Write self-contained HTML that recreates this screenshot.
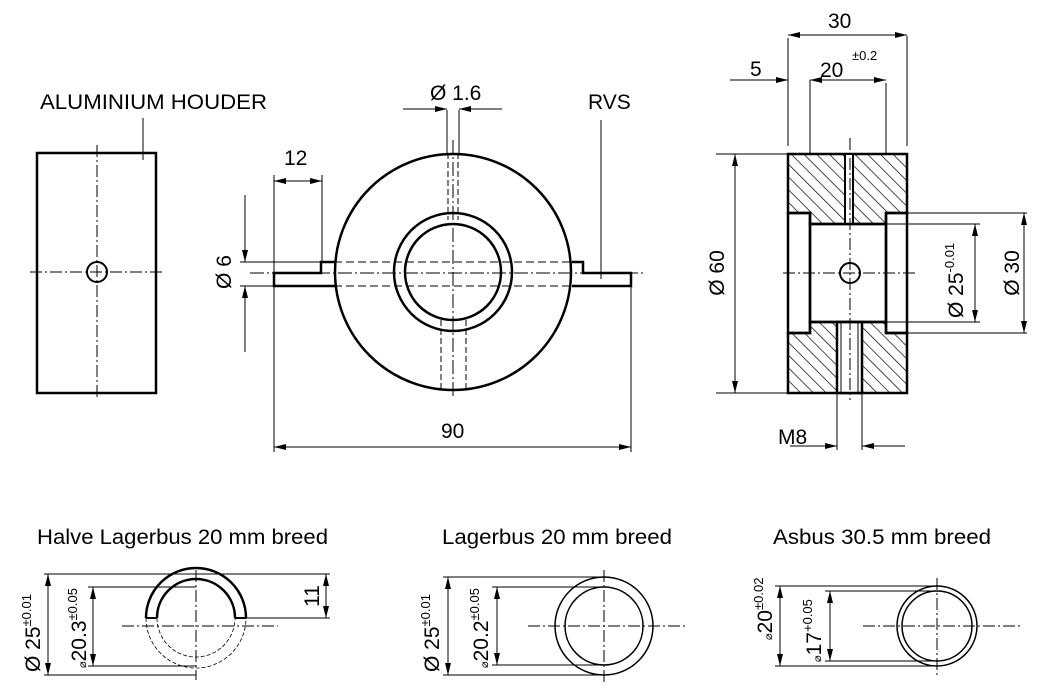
<!DOCTYPE html>
<html><head><meta charset="utf-8"><style>
html,body{margin:0;padding:0;background:#fff;}
svg{display:block;}
text{font-family:"Liberation Sans",Arial,sans-serif;fill:#000;}
</style></head><body>
<svg width="1046" height="690" viewBox="0 0 1046 690" xmlns="http://www.w3.org/2000/svg">
<defs>
<pattern id="h" width="9" height="9" patternUnits="userSpaceOnUse" patternTransform="rotate(-45)">
<line x1="0" y1="0" x2="0" y2="9" stroke="#000" stroke-width="1.4"/>
</pattern>
<marker id="a" viewBox="0 0 12 6" refX="12" refY="3" markerWidth="12" markerHeight="6" orient="auto-start-reverse" markerUnits="userSpaceOnUse">
<path d="M0,0 L12,3 L0,6 Z" fill="#000"/>
</marker>
</defs>
<g fill="none" stroke="#000" stroke-width="1">
<rect x="37" y="153" width="119" height="240" stroke-width="2.5"/>
<line x1="30" y1="272" x2="165" y2="272" stroke-dasharray="12,3,2,3"/>
<line x1="97" y1="145" x2="97" y2="400" stroke-dasharray="12,3,2,3"/>
<circle cx="97" cy="272" r="10" stroke-width="2"/>
<line x1="143" y1="118" x2="143" y2="160"/>

<circle cx="453" cy="272" r="118" stroke-width="2.5"/>
<circle cx="453" cy="272" r="59" stroke-width="2.5"/>
<circle cx="453" cy="272" r="48" stroke-width="2.5"/>
<path d="M336,286 L274,286 L274,273 L321,273 L321,262 L336,262" stroke-width="2.5"/>
<path d="M572,262 L583,262 L583,273 L631,273 L631,286 L572,286" stroke-width="2.5"/>
<line x1="274" y1="262" x2="572" y2="262" stroke-dasharray="8,4"/>
<line x1="274" y1="286" x2="572" y2="286" stroke-dasharray="8,4"/>
<line x1="250" y1="273" x2="645" y2="273" stroke-dasharray="14,3,2,3"/>
<line x1="453" y1="140" x2="453" y2="398" stroke-dasharray="14,3,2,3"/>
<line x1="447" y1="110" x2="447" y2="153"/><line x1="459" y1="110" x2="459" y2="153"/>
<line x1="448" y1="153" x2="448" y2="220" stroke-dasharray="6,3"/><line x1="458" y1="153" x2="458" y2="220" stroke-dasharray="6,3"/>
<line x1="441" y1="320" x2="441" y2="390" stroke-dasharray="6,3"/><line x1="466" y1="320" x2="466" y2="390" stroke-dasharray="6,3"/>
<line x1="403" y1="109" x2="447" y2="109" marker-end="url(#a)"/>
<line x1="502" y1="109" x2="459" y2="109" marker-end="url(#a)"/>
<line x1="274" y1="175" x2="274" y2="286"/><line x1="322" y1="175" x2="322" y2="262"/>
<line x1="274" y1="181" x2="322" y2="181" marker-start="url(#a)" marker-end="url(#a)"/>
<line x1="240" y1="262" x2="321" y2="262"/><line x1="240" y1="286" x2="274" y2="286"/>
<line x1="245" y1="195" x2="245" y2="262" marker-end="url(#a)"/>
<line x1="245" y1="352" x2="245" y2="286" marker-end="url(#a)"/>
<line x1="274" y1="286" x2="274" y2="452"/><line x1="631" y1="286" x2="631" y2="452"/>
<line x1="274" y1="447" x2="631" y2="447" marker-start="url(#a)" marker-end="url(#a)"/>
<line x1="601" y1="120" x2="601" y2="279"/>

<path d="M788,154 H907 V213 H886 V224 H810 V213 H788 Z" fill="url(#h)" stroke-width="2.5"/>
<path d="M788,393 H907 V333 H886 V322 H810 V333 H788 Z" fill="url(#h)" stroke-width="2.5"/>
<rect x="845" y="154" width="8" height="70" fill="#fff" stroke-width="2"/>
<rect x="837" y="322" width="25" height="71" fill="#fff" stroke-width="2.5"/>
<line x1="841" y1="322" x2="841" y2="393"/><line x1="858" y1="322" x2="858" y2="393"/>
<rect x="788" y="213" width="22" height="120" stroke-width="2.5"/>
<rect x="886" y="213" width="21" height="120" stroke-width="2.5"/>
<rect x="810" y="224" width="76" height="98" stroke-width="2.5"/>
<circle cx="850" cy="273" r="10" stroke-width="2"/>
<line x1="783" y1="273" x2="915" y2="273" stroke-dasharray="12,3,2,3"/>
<line x1="850" y1="138" x2="850" y2="400" stroke-dasharray="12,3,2,3"/>
<line x1="788" y1="38" x2="788" y2="146"/><line x1="907" y1="36" x2="907" y2="146"/>
<line x1="788" y1="35" x2="907" y2="35" marker-start="url(#a)" marker-end="url(#a)"/>
<line x1="730" y1="80" x2="788" y2="80" marker-end="url(#a)"/>
<line x1="810" y1="80" x2="886" y2="80" marker-start="url(#a)" marker-end="url(#a)"/>
<line x1="810" y1="80" x2="810" y2="154"/><line x1="886" y1="83" x2="886" y2="154"/>
<line x1="716" y1="154" x2="788" y2="154"/><line x1="716" y1="393" x2="788" y2="393"/>
<line x1="735" y1="154" x2="735" y2="393" marker-start="url(#a)" marker-end="url(#a)"/>
<line x1="886" y1="224" x2="980" y2="224"/><line x1="886" y1="322" x2="980" y2="322"/>
<line x1="975" y1="224" x2="975" y2="322" marker-start="url(#a)" marker-end="url(#a)"/>
<line x1="907" y1="213" x2="1027" y2="213"/><line x1="907" y1="333" x2="1027" y2="333"/>
<line x1="1024" y1="213" x2="1024" y2="333" marker-start="url(#a)" marker-end="url(#a)"/>
<line x1="837" y1="393" x2="837" y2="450"/><line x1="862" y1="393" x2="862" y2="450"/>
<line x1="790" y1="446" x2="837" y2="446" marker-end="url(#a)"/>
<line x1="905" y1="446" x2="862" y2="446" marker-end="url(#a)"/>

<path d="M146,618 A50,50 0 0 1 246,618" stroke-width="2.5"/>
<path d="M157,618 A39,39 0 0 1 235,618" stroke-width="2.5"/>
<path d="M146,618 A50,50 0 0 0 246,618" stroke-dasharray="4,2" stroke-width="0.8"/>
<path d="M157,618 A39,39 0 0 0 235,618" stroke-dasharray="4,2" stroke-width="0.8"/>
<line x1="146" y1="618" x2="157" y2="618" stroke-width="2"/><line x1="235" y1="618" x2="246" y2="618" stroke-width="2"/>
<line x1="122" y1="626" x2="278" y2="626" stroke-dasharray="12,3,2,3"/>
<line x1="196" y1="570" x2="196" y2="680" stroke-dasharray="12,3,2,3"/>
<line x1="44" y1="574" x2="330" y2="574"/><line x1="44" y1="675" x2="196" y2="675"/>
<line x1="48" y1="574" x2="48" y2="675" marker-start="url(#a)" marker-end="url(#a)"/>
<line x1="88" y1="587" x2="196" y2="587"/><line x1="88" y1="666" x2="196" y2="666"/>
<line x1="93" y1="587" x2="93" y2="666" marker-start="url(#a)" marker-end="url(#a)"/>
<line x1="246" y1="618" x2="330" y2="618"/>
<line x1="326" y1="574" x2="326" y2="618" marker-start="url(#a)" marker-end="url(#a)"/>

<circle cx="604" cy="626" r="49" stroke-width="1.5"/>
<circle cx="604" cy="626" r="39" stroke-width="1.5"/>
<line x1="528" y1="626" x2="685" y2="626" stroke-dasharray="12,3,2,3"/>
<line x1="604" y1="570" x2="604" y2="682" stroke-dasharray="12,3,2,3"/>
<line x1="443" y1="577" x2="604" y2="577"/><line x1="443" y1="675" x2="604" y2="675"/>
<line x1="448" y1="577" x2="448" y2="675" marker-start="url(#a)" marker-end="url(#a)"/>
<line x1="492" y1="587" x2="604" y2="587"/><line x1="492" y1="665" x2="604" y2="665"/>
<line x1="497" y1="587" x2="497" y2="665" marker-start="url(#a)" marker-end="url(#a)"/>

<circle cx="937" cy="626" r="40" stroke-width="1.5"/>
<circle cx="937" cy="626" r="35" stroke-width="1.5"/>
<line x1="863" y1="626" x2="1022" y2="626" stroke-dasharray="12,3,2,3"/>
<line x1="937" y1="578" x2="937" y2="676" stroke-dasharray="12,3,2,3"/>
<line x1="775" y1="586" x2="937" y2="586"/><line x1="775" y1="666" x2="937" y2="666"/>
<line x1="780" y1="586" x2="780" y2="666" marker-start="url(#a)" marker-end="url(#a)"/>
<line x1="825" y1="591" x2="937" y2="591"/><line x1="825" y1="661" x2="937" y2="661"/>
<line x1="830" y1="591" x2="830" y2="661" marker-start="url(#a)" marker-end="url(#a)"/>
</g>

<g font-size="21">
<text x="40" y="109" textLength="227" lengthAdjust="spacingAndGlyphs">ALUMINIUM HOUDER</text>
<text x="588" y="109">RVS</text>
<text x="430" y="100">Ø 1.6</text>
<text x="284" y="165">12</text>
<text x="441" y="438">90</text>
<text x="231" y="272" transform="rotate(-90 231 272)" text-anchor="middle">Ø 6</text>
<text x="828" y="28">30</text>
<text x="750" y="76">5</text>
<text x="820" y="77">20</text>
<text x="852" y="60" font-size="13">±0.2</text>
<text x="724" y="273" transform="rotate(-90 724 273)" text-anchor="middle">Ø 60</text>
<g transform="translate(963 318) rotate(-90)"><text x="0" y="0">Ø 25<tspan font-size="13" dy="-9">-0.01</tspan></text></g>
<text x="1019" y="273" transform="rotate(-90 1019 273)" text-anchor="middle">Ø 30</text>
<text x="778" y="444">M8</text>
<text x="37" y="544" textLength="291" lengthAdjust="spacingAndGlyphs">Halve Lagerbus 20 mm breed</text>
<text x="442" y="544" textLength="230" lengthAdjust="spacingAndGlyphs">Lagerbus 20 mm breed</text>
<text x="773" y="544" textLength="218" lengthAdjust="spacingAndGlyphs">Asbus 30.5 mm breed</text>
<text x="319" y="596" transform="rotate(-90 319 596)" text-anchor="middle">11</text>
<g transform="translate(40 672) rotate(-90)"><text>Ø 25<tspan font-size="13" dy="-9">±0.01</tspan></text></g>
<g transform="translate(86 668) rotate(-90)"><text><tspan font-size="11">⌀</tspan>20.3<tspan font-size="13" dy="-9">±0.05</tspan></text></g>
<g transform="translate(439 672) rotate(-90)"><text>Ø 25<tspan font-size="13" dy="-9">±0.01</tspan></text></g>
<g transform="translate(488 668) rotate(-90)"><text><tspan font-size="11">⌀</tspan>20.2<tspan font-size="13" dy="-9">±0.05</tspan></text></g>
<g transform="translate(772 640) rotate(-90)"><text><tspan font-size="11">⌀</tspan>20<tspan font-size="13" dy="-9">±0.02</tspan></text></g>
<g transform="translate(821 662) rotate(-90)"><text><tspan font-size="11">⌀</tspan>17<tspan font-size="13" dy="-9">+0.05</tspan></text></g>
</g>
</svg>
</body></html>
